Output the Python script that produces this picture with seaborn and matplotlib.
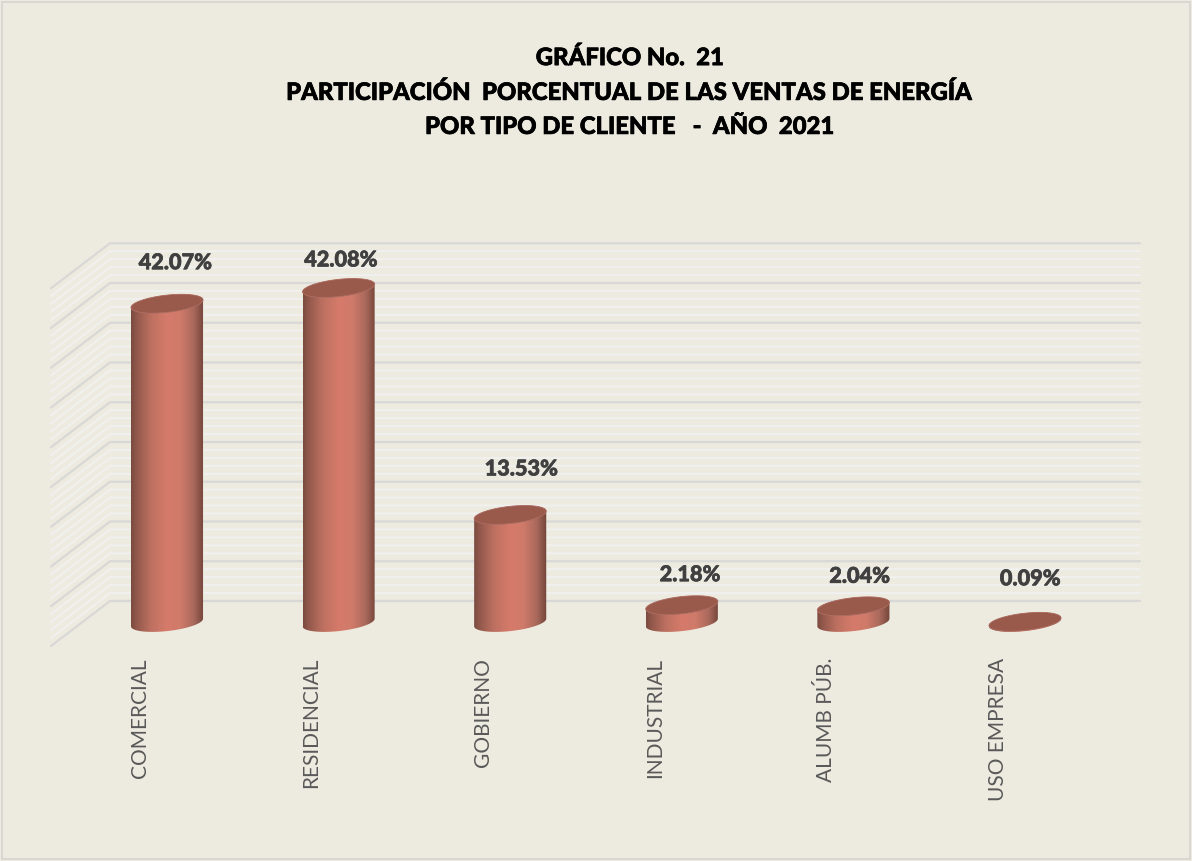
"""
Grafico No. 21 -- ventas de energia por tipo de cliente, 2021
Cilindros 3D simulados sobre un sns.barplot.
"""

import numpy as np
import pandas as pd
import matplotlib
matplotlib.use("Agg")
import matplotlib.pyplot as plt
import matplotlib.patheffects as pe
import seaborn as sns
from matplotlib.colors import LinearSegmentedColormap
from matplotlib.patches import Polygon, Rectangle
from matplotlib.transforms import ScaledTranslation

# ---------------------------------------------------------------------------
# Data
# ---------------------------------------------------------------------------
clientes = ["COMERCIAL", "RESIDENCIAL", "GOBIERNO", "INDUSTRIAL", "ALUMB PÚB.", "USO EMPRESA"]
# Comercial is drawn shorter in the picture than its printed label says
alturas = [40.1, 42.08, 13.53, 2.18, 2.04, 0.09]
etiquetas = ["42.07%", "42.08%", "13.53%", "2.18%", "2.04%", "0.09%"]
titulo = ("GRÁFICO No.  21\n"
          "PARTICIPACIÓN  PORCENTUAL DE LAS VENTAS DE ENERGÍA\n"
          "POR TIPO DE CLIENTE   -  AÑO  2021")

# ---------------------------------------------------------------------------
# Layout (pixels of the 1192x861 picture)
# ---------------------------------------------------------------------------
W, H = 1192, 861
FONDO = "#EDEBE0"
PX_CAT = 171.6   # pixels per category
PX_PCT = 7.95    # pixels per percent
AX_LEFT, AX_BASE = 81.2, 622.5
Y_MAX = 48
WALL_DY = 21.5   # back wall zero sits this far above the bar base
WALL_X0, WALL_X1, SIDE_X0, SIDE_DY = 110, 1140, 51, 45

# label shift from the top centre of each cylinder
label_dx = [8, 2, 11, 8, 6, 5]
label_dy = [41, 28, 46, 30.5, 30, 43]

sns.set_theme(style="white")
plt.rcParams["font.family"] = ["Lato", "DejaVu Sans"]

fig = plt.figure(figsize=(W / 100, H / 100), dpi=100, facecolor=FONDO)
ax = fig.add_axes([AX_LEFT / W, (H - AX_BASE) / H, 6 * PX_CAT / W, Y_MAX * PX_PCT / H])
ax.patch.set_alpha(0)

df = pd.DataFrame({"cliente": clientes, "altura": alturas})
sns.barplot(data=df, x="cliente", y="altura", color="#D67B6B", width=0.42, saturation=1, ax=ax)

ax.set_xlim(-0.5, 5.5)
ax.set_ylim(0, Y_MAX)
ax.set_xlabel("")
ax.set_ylabel("")
ax.set_yticks([])
sns.despine(ax=ax, left=True, bottom=True)


def px_x(px):
    return (px - AX_LEFT) / PX_CAT - 0.5


def py_y(py):
    return (AX_BASE - py) / PX_PCT


# ---------------------------------------------------------------------------
# Back wall and side wall grid (5 % major, 1 % minor)
# ---------------------------------------------------------------------------
for v in range(0, 46):
    major = v % 5 == 0
    color = "#D8D8D6" if major else "#F0F0EE"
    lw = 1.6 if major else 1.5
    y_back = v + WALL_DY / PX_PCT
    y_front = y_back - SIDE_DY / PX_PCT
    ax.plot([px_x(SIDE_X0), px_x(WALL_X0), px_x(WALL_X1)], [y_front, y_back, y_back],
            color=color, lw=lw, zorder=1 if not major else 1.5, clip_on=False,
            solid_joinstyle="miter")

# ---------------------------------------------------------------------------
# Cylinders
# ---------------------------------------------------------------------------
cyl_cmap = LinearSegmentedColormap.from_list(
    "cyl", [(0, "#7A4A40"), (0.08, "#93594C"), (0.28, "#BE7161"), (0.5, "#D67B6B"),
            (0.68, "#CF7A6A"), (0.86, "#A9695C"), (1, "#734439")])
grad = np.linspace(0, 1, 256)[None, :]
TILT, SEMI_B = 3.8, 8.6   # pixels


def ring(cx, cy_px, a_px, t):
    # sheared ellipse in pixel space, returned in data coordinates
    xs = cx + a_px * np.cos(t) / PX_CAT
    ys = py_y(cy_px - SEMI_B * np.sin(t) - TILT * np.cos(t))
    return np.column_stack([xs, ys])


heavy_label = [pe.withStroke(linewidth=0.5, foreground="#404040")]
heavy_title = [pe.withStroke(linewidth=0.5, foreground="black")]

for i, bar in enumerate(ax.patches):
    cx = bar.get_x() + bar.get_width() / 2
    h = bar.get_height()
    a_px = bar.get_width() * PX_CAT / 2
    bar.set_alpha(0)
    top_px = AX_BASE - h * PX_PCT

    low = np.linspace(np.pi, 2 * np.pi, 60)
    body = np.vstack([ring(cx, AX_BASE, a_px, low), ring(cx, top_px, a_px, low[::-1])])
    clip = Polygon(body, closed=True, transform=ax.transData, facecolor="none", edgecolor="none")
    clip.set_clip_on(False)
    ax.add_patch(clip)
    img = ax.imshow(grad, cmap=cyl_cmap, aspect="auto", zorder=3,
                    extent=(bar.get_x(), bar.get_x() + bar.get_width(), -3, h + 3))
    img.set_clip_path(clip)
    img.set_clip_box(fig.bbox)

    tapa = ring(cx, top_px, a_px, np.linspace(0, 2 * np.pi, 120))
    ax.add_patch(Polygon(tapa, closed=True, facecolor="#995A4C", edgecolor="#A9665A",
                         lw=0.6, zorder=4, clip_on=False))

    ax.text(cx + label_dx[i] / PX_CAT, h + label_dy[i] / PX_PCT, etiquetas[i],
            ha="center", va="center", fontsize=15.6, fontweight=900, color="#404040",
            zorder=5, path_effects=heavy_label)

ax.set_xlim(-0.5, 5.5)
ax.set_ylim(0, Y_MAX)

# ---------------------------------------------------------------------------
# Category labels, title, frame
# ---------------------------------------------------------------------------
ax.tick_params(axis="x", length=0, pad=25.5)
shift = ScaledTranslation(-27 / 100, 0, fig.dpi_scale_trans)
for lab in ax.get_xticklabels():
    lab.set_rotation(90)
    lab.set_ha("center")
    lab.set_va("top")
    lab.set_fontsize(15)
    lab.set_color("#595959")
    lab.set_transform(lab.get_transform() + shift)

fig.text(630 / W, 1 - 92 / H, titulo, ha="center", va="center", ma="center",
         fontsize=17.2, fontweight=900, color="black", linespacing=1.58,
         path_effects=heavy_title)

fig.add_artist(Rectangle((1.5 / W, 2.5 / H), (W - 3.5) / W, (H - 4) / H, transform=fig.transFigure,
                         facecolor="none", edgecolor="#D4D4D0", lw=1.2))

fig.savefig("out.png", dpi=100, facecolor=FONDO)
plt.close(fig)
